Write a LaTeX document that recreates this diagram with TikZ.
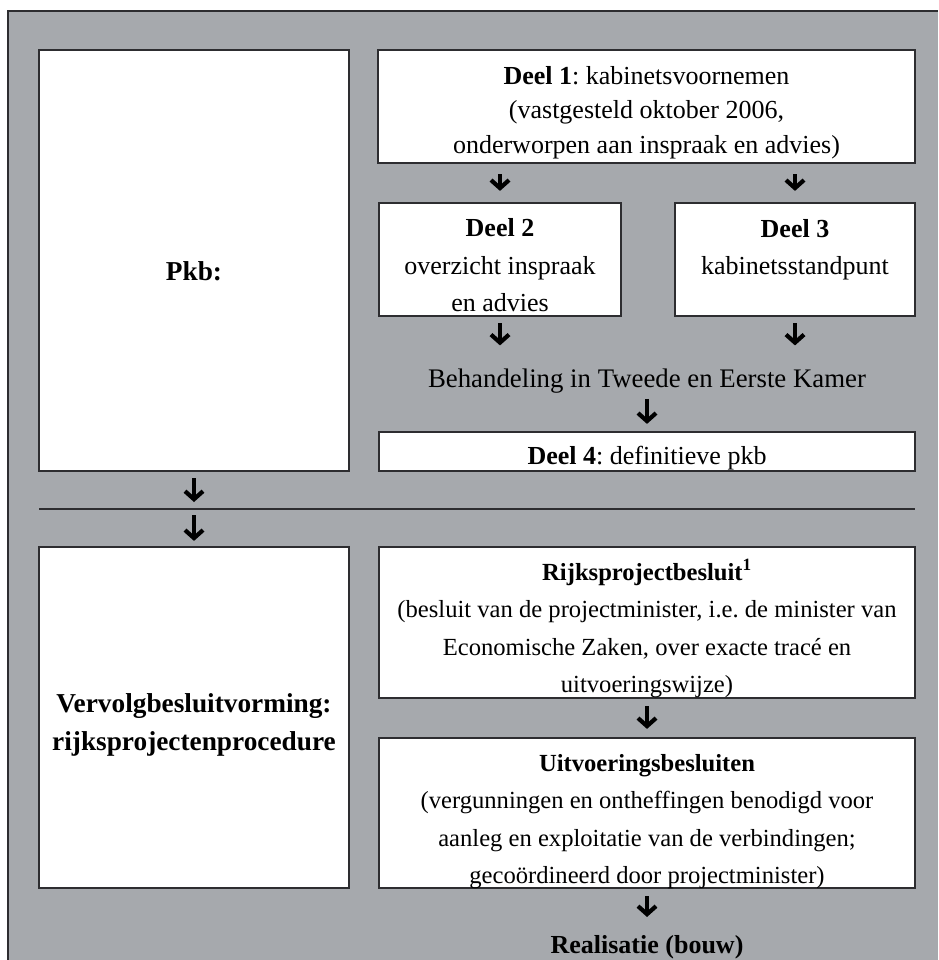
\documentclass[tikz,border=0pt]{standalone}
\usepackage{fontspec}
\setmainfont{Liberation Serif}
\usetikzlibrary{arrows.meta}
\definecolor{panelgray}{RGB}{166,169,173}
\definecolor{edgegray}{RGB}{45,45,48}
\newcommand{\topgap}[1]{\rule{0pt}{#1}}
\frenchspacing

\begin{document}
\begin{tikzpicture}[x=1pt,y=-1pt,line width=2pt,
  every node/.style={font=\fontsize{26}{37.5}\selectfont,align=center,inner sep=0pt},
  box/.style={draw=edgegray,fill=white,line width=2.2pt},
  small/.style={font=\fontsize{24.6}{37.5}\selectfont},
  big/.style={font=\fontsize{27.3}{37.5}\selectfont},
  down/.style={-{Straight Barb[length=8pt,width=18pt]},line width=4.2pt,black}]
  \useasboundingbox (0,0) rectangle (938,960);
  \fill[panelgray] (8,11) rectangle (938,960);
  \draw[edgegray] (8,960) -- (8,11) -- (938,11);

  % upper half: pkb
  \node[box,big,minimum width=310,minimum height=421] (pkb) at (194,260.5) {\topgap{41pt}\textbf{Pkb:}};
  \node[box,minimum width=537,minimum height=113,font=\fontsize{26}{34.5}\selectfont] (deel1) at (646.5,106.5)
    {\topgap{30pt}\textbf{Deel 1}: kabinetsvoornemen\\(vastgesteld oktober 2006,\\onderworpen aan inspraak en advies)};
  \node[box,minimum width=242,minimum height=113] (deel2) at (500,259.5)
    {\topgap{30pt}\textbf{Deel 2}\\overzicht inspraak\\en advies};
  \node[box,minimum width=240,minimum height=113] (deel3) at (795,259.5)
    {\topgap{30pt}\textbf{Deel 3}\\kabinetsstandpunt\\~};
  \node[anchor=base,font=\fontsize{26.8}{37.5}\selectfont] (beh) at (647,387) {Behandeling in Tweede en Eerste Kamer};
  \node[box,minimum width=536,minimum height=39] (deel4) at (647,451.5)
    {\topgap{32pt}\textbf{Deel 4}: definitieve pkb};

  \coordinate (sepL) at (39,509);
  \coordinate (sepR) at (915,509);
  \draw[edgegray,line width=1.5pt] (sepL) -- (sepR);

  % lower half: vervolg
  \node[box,big,minimum width=310,minimum height=341] (vervolg) at (194,717.5)
    {\topgap{34pt}\textbf{Vervolgbesluitvorming:}\\\textbf{rijksprojectenprocedure}};
  \node[box,small,minimum width=536,minimum height=151] (rijks) at (647,622.5)
    {\topgap{27.5pt}\textbf{Rijksprojectbesluit\textsuperscript{1}}\\(besluit van de projectminister, i.e. de minister van\\Economische Zaken, over exacte tracé en\\\smash{uitvoeringswijze)}};
  \node[box,small,minimum width=536,minimum height=150] (uitv) at (647,813)
    {\topgap{29pt}\textbf{Uitvoeringsbesluiten}\\(vergunningen en ontheffingen benodigd voor\\aanleg en exploitatie van de verbindingen;\\\smash{gecoördineerd door projectminister)}};
  \node[anchor=base] (real) at (647,953) {\textbf{Realisatie (bouw)}};

  \draw[down,shorten <=10pt,shorten >=11pt] (deel1.south -| deel2.north) -- (deel2.north);
  \draw[down,shorten <=10pt,shorten >=11pt] (deel1.south -| deel3.north) -- (deel3.north);
  \draw[down,shorten <=6pt,shorten >=22pt] (deel2.south) -- (deel2.south |- beh.north);
  \draw[down,shorten <=6pt,shorten >=22pt] (deel3.south) -- (deel3.south |- beh.north);
  \draw[down,shorten <=5pt,shorten >=7pt] (beh.south) -- (deel4.north);
  \draw[down,shorten <=6pt,shorten >=7pt] (pkb.south) -- (pkb.south |- sepL);
  \draw[down,shorten <=6pt,shorten >=5pt] (pkb.south |- sepL) -- (vervolg.north);
  \draw[down,shorten <=7pt,shorten >=8pt] (rijks.south) -- (uitv.north);
  \draw[down,shorten <=7pt,shorten >=17pt] (uitv.south) -- (uitv.south |- real.north);
\end{tikzpicture}
\end{document}
